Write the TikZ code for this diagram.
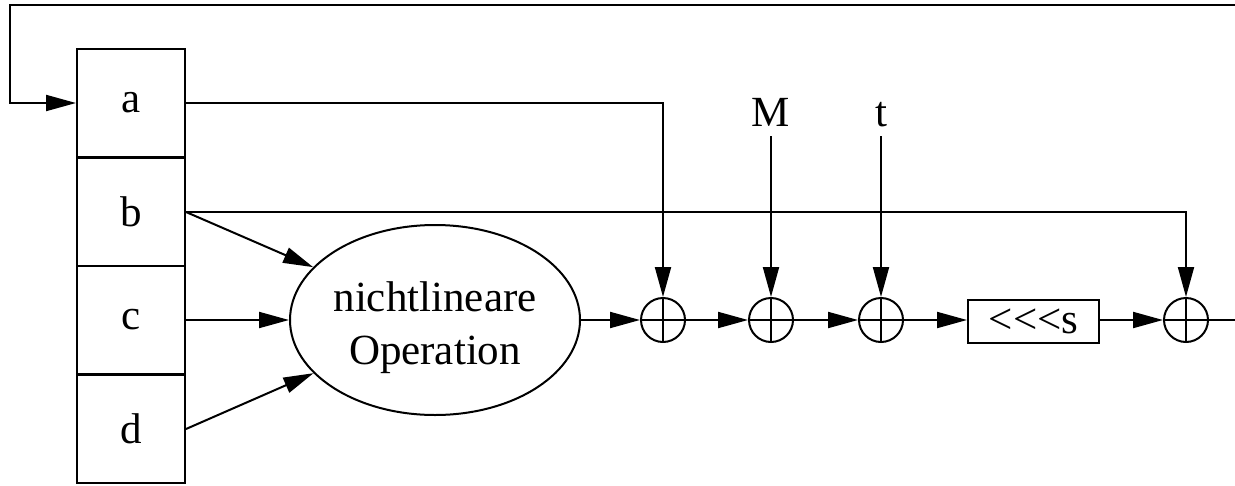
\documentclass[tikz,border=0pt]{standalone}
\usepackage{fontspec}
\setmainfont{Liberation Serif}
\usetikzlibrary{arrows.meta,shapes.geometric}
\begin{document}
\begin{tikzpicture}[x=1pt,y=-1pt,
  every node/.style={font=\fontsize{43}{53}\selectfont},
  conn/.style={line width=2pt},
  arr/.style={conn,-{Triangle[length=30pt,width=16pt]}},
  reg/.style={draw,line width=2pt,minimum width=108pt,minimum height=108.5pt,inner sep=0pt},
  xor/.style={draw,circle,line width=2pt,minimum size=44pt,inner sep=0pt,
    path picture={\draw[line width=2pt] (path picture bounding box.north) -- (path picture bounding box.south)
      (path picture bounding box.west) -- (path picture bounding box.east);}},
  opbox/.style={draw,ellipse,line width=2pt,minimum width=290pt,minimum height=190pt,inner sep=0pt},
  optext/.style={align=center,inner sep=0pt},
  shiftbox/.style={draw,line width=2pt,minimum width=131pt,minimum height=43pt,inner sep=0pt},
  lbl/.style={anchor=base,inner sep=10pt}]
\useasboundingbox (0,0) rectangle (1235,485);
\node[reg] (a) at (131,103) {a};
\node[reg] (b) at (131,212) {b};
\node[reg] (c) at (131,320) {c};
\node[reg] (d) at (131,429) {d};
\node[opbox] (op) at (435,320) {};
\node[optext] (opt) at (435,328) {nichtlineare\\Operation};
\node[xor] (x1) at (663,320) {};
\node[xor] (x2) at (771,320) {};
\node[xor] (x3) at (881,320) {};
\node[shiftbox] (sh) at (1033.5,321.5) {<{}<{}<s};
\node[xor] (x4) at (1186,320) {};
\node[lbl] (M) at (771,126) {M};
\node[lbl] (t) at (881,126) {t};
\coordinate (fbR) at (1235,5);
\coordinate (fbL) at (10,5);
\coordinate (out) at (1235,320);
\draw[arr] (fbR) -- (fbL) |- (a.west);
\draw[arr] (a.east) -| (x1.north);
\draw[arr] (b.east) -| (x4.north);
\draw[arr] (b.east) -- (op);
\draw[arr] (c.east) -- (op.west);
\draw[arr] (d.east) -- (op);
\draw[arr] (op.east) -- (x1.west);
\draw[arr] (x1.east) -- (x2.west);
\draw[arr] (x2.east) -- (x3.west);
\draw[arr] (x3.east) -- (sh.west |- x3.east);
\draw[arr] (sh.east |- x4.west) -- (x4.west);
\draw[conn] (x4.east) -- (out);
\draw[arr] (M.south) -- (x2.north);
\draw[arr] (t.south |- M.south) -- (x3.north);
\end{tikzpicture}
\end{document}
